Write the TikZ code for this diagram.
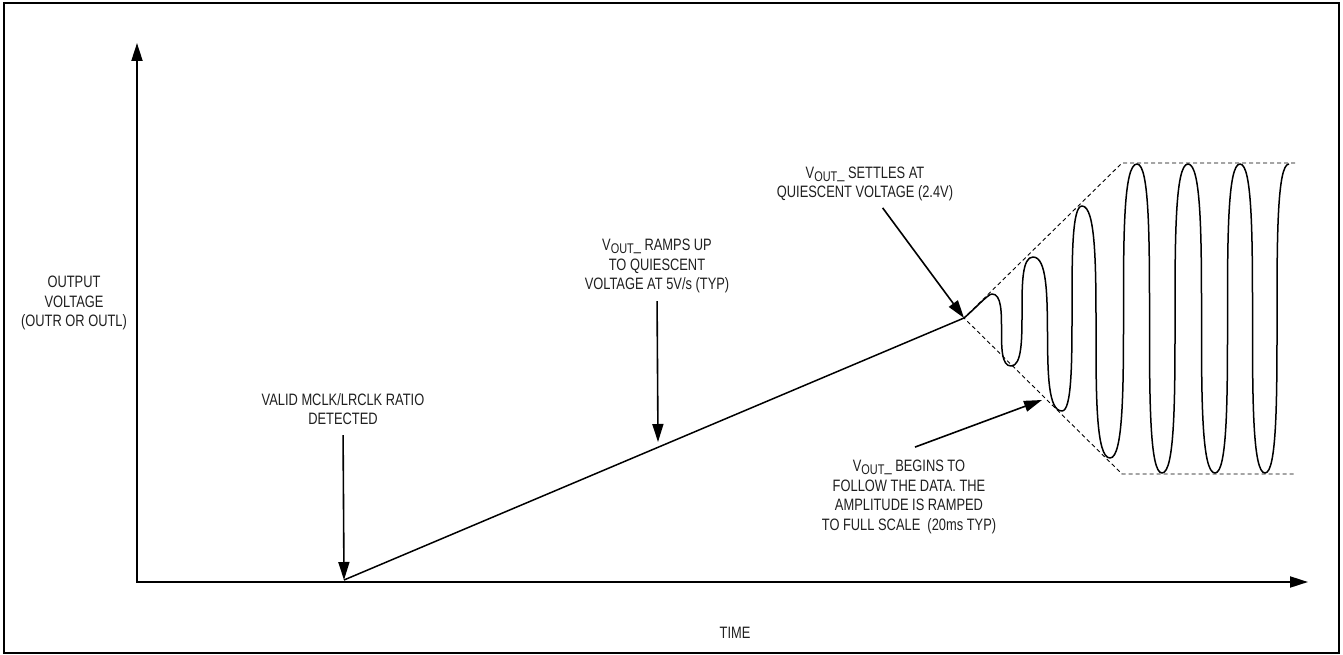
\documentclass[tikz,border=0pt]{standalone}
\usepackage{fontspec}
\newfontfamily\narrowsf{Liberation Sans}[FakeStretch=0.78]
\usetikzlibrary{arrows.meta}
\newcommand{\vout}{V\raisebox{-3pt}{\fontsize{14}{14}\selectfont OUT}\_}

\begin{document}
\begin{tikzpicture}[x=1pt,y=-1pt,>={Triangle[length=18pt,width=11pt]}]
\tikzstyle{note}=[font=\narrowsf\fontsize{16.5}{19.5}\selectfont,text=black!88,align=center,inner sep=0pt]
\tikzstyle{axisline}=[line width=2pt,<->]
\tikzstyle{pointer}=[line width=1.6pt,->]
\tikzstyle{signal}=[line width=1.5pt,line join=round]
\tikzstyle{envelope}=[line width=0.9pt,dash pattern=on 4pt off 3pt]
\tikzstyle{swing}=[out=0,in=180,out distance=#1,in distance=#1]
\useasboundingbox (0,0) rectangle (1343,655);
\draw[line width=1.3pt] (4,3) rectangle (1339,653);

% axes
\coordinate (O) at (137,582);
\coordinate (ytop) at (137,43);
\coordinate (xend) at (1308,582);
\draw[axisline] (ytop) -- (O) -- (xend);

% ramp and envelope
\coordinate (start) at (344,580);
\coordinate (J) at (964,318);
\coordinate (up1) at (1122,163);
\coordinate (up2) at (1295,163);
\coordinate (lo1) at (1122,474);
\coordinate (lo2) at (1295,474);
\draw[envelope] (up2) -- (up1) -- (J) -- (lo1) -- (lo2);
\draw[signal] (start) -- (J) to[out=40,in=180,in distance=4pt] (992,294)
  \foreach \x/\y/\d in {1011/366/19pt,1033/257/22pt,1062/411/28pt,1082/206/20pt,
    1110/458/28pt,1137/164/27pt,1162/473/25pt,1188/164/26pt,1215/473/27pt,
    1240/164/25pt,1265/473/25pt,1289/164/24pt} {to[swing=\d] (\x,\y)};

% labels
\node[note] (ylab) at (74,303) {OUTPUT\\VOLTAGE\\(OUTR OR OUTL)};
\node[note] (valid) at (343,409) {VALID MCLK/LRCLK RATIO\\DETECTED};
\node[note] (ramp) at (657,266) {\vout{} RAMPS UP\\TO QUIESCENT\\VOLTAGE AT 5V/s (TYP)};
\node[note] (settle) at (865,184) {\vout{} SETTLES AT\\QUIESCENT VOLTAGE (2.4V)};
\node[note] (follow) at (909,497) {\vout{} BEGINS TO\\FOLLOW THE DATA. THE\\AMPLITUDE IS RAMPED\\TO FULL SCALE\ \ (20ms TYP)};
\node[note] (time) at (735,633) {TIME};

\coordinate (rampend) at (658,442);
\coordinate (followend) at (1042,400);
\draw[pointer,shorten <=10pt] (valid.south) -- (start);
\draw[pointer,shorten <=8pt] (ramp.south) -- (rampend);
\draw[pointer,shorten <=8pt] (settle) -- (J);
\draw[pointer] ([shift={(6,-13)}]follow.north) -- (followend);
\end{tikzpicture}
\end{document}
